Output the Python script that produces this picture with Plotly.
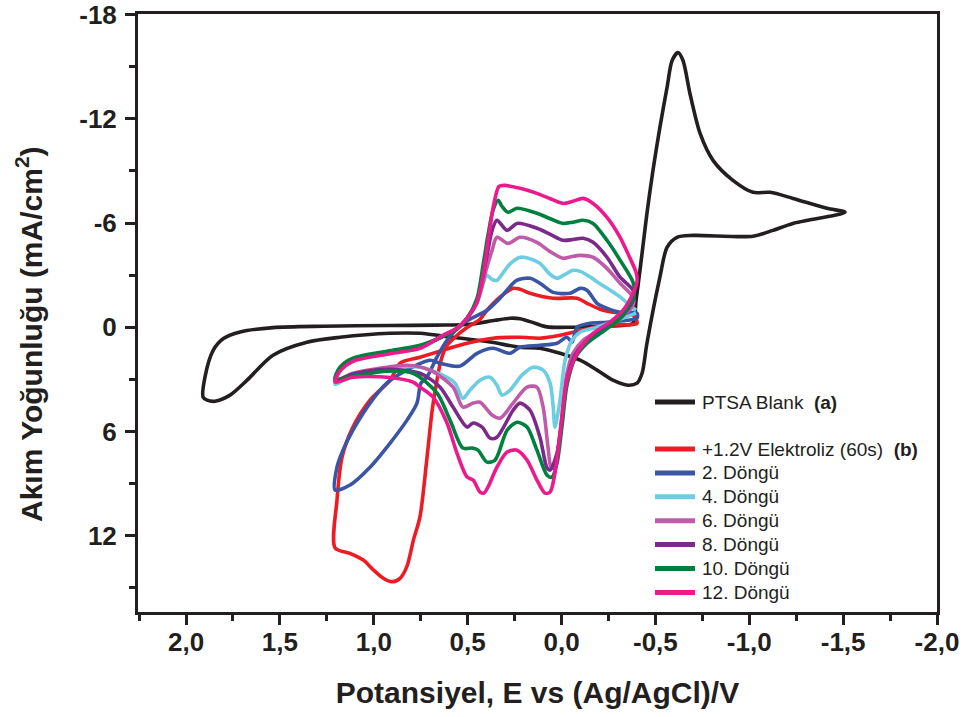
import plotly.graph_objects as go

# ---------------- data: potential E (V vs Ag/AgCl) and current density J (mA/cm2) ----------------
blank_E = [1.909, 1.899, 1.855, 1.801, 1.712, 1.537, 1.27, 0.913, 0.665, 0.487, 0.354, 0.274, 0.221,
           0.141, 0.077, -0.061, -0.205, -0.338, -0.381, -0.397, -0.418, -0.455, -0.487, -0.524, -0.562,
           -0.589, -0.620, -0.647, -0.684, -0.738, -0.807, -0.913, -1.02, -1.111, -1.233, -1.414, -1.51,
           -1.233, -1.126, -1.02, -0.70, -0.615, -0.562, -0.524, -0.455, -0.429, -0.402,
           -0.354, -0.274, -0.189, -0.099, 0.008, 0.115, 0.221, 0.381, 0.578, 0.754, 0.913, 1.18, 1.356,
           1.537, 1.675, 1.766, 1.846, 1.888, 1.909]
blank_J = [4.03, 2.86, 1.32, 0.65, 0.27, 0.02, -0.06, -0.10, -0.12, -0.17, -0.40, -0.52, -0.49,
           -0.23, -0.02, 0.0, -0.06, -0.12, -0.23, -1.55, -3.28, -6.56, -9.03, -11.51, -13.81,
           -15.36, -15.82, -15.36, -13.46, -11.16, -9.61, -8.46, -7.77, -7.77, -7.42, -6.85, -6.62,
           -5.98, -5.58, -5.24, -5.29, -5.18, -4.60, -2.88, 0.92, 2.65, 3.22,
           3.34, 3.05, 2.47, 1.90, 1.50, 1.21, 1.15, 0.85, 0.58, 0.35, 0.35, 0.58, 0.86,
           1.61, 3.05, 3.91, 4.26, 4.20, 4.03]

elek_E = [1.206, 1.127, 1.056, 1.002, 0.949, 0.904, 0.860, 0.824, 0.789, 0.754, 0.718, 0.689, 0.668,
          0.642, 0.610, 0.562, 0.509, 0.434, 0.397, 0.328, 0.258, 0.221, 0.168, 0.045, -0.083, -0.136,
          -0.205, -0.274, -0.381, -0.402, -0.242, -0.152, 0.008, 0.115, 0.221, 0.365, 0.503, 0.631,
          0.754, 0.860, 0.913, 1.02, 1.111, 1.169, 1.196, 1.206]
elek_J = [12.72, 13.02, 13.41, 13.98, 14.46, 14.66, 14.46, 13.79, 12.26, 10.92, 7.65, 4.78, 3.34,
          1.90, 1.04, 0.52, 0.06, -0.46, -0.98, -1.73, -2.24, -2.19, -1.96, -1.67, -1.67, -1.38,
          -1.04, -0.86, -0.69, -0.23, -0.12, 0.06, 0.46, 0.63, 0.58, 0.63, 0.92, 1.32,
          1.73, 2.07, 3.05, 4.20, 5.75, 7.48, 9.95, 12.72]

c2_E = [1.206, 1.127, 1.02, 0.913, 0.823, 0.77, 0.749, 0.716, 0.663, 0.610, 0.525, 0.397, 0.328, 0.239,
        0.168, 0.115, 0.045, -0.045, -0.099, -0.136, -0.189, -0.242, -0.312, -0.402, -0.402, -0.349,
        -0.242, -0.152, -0.083, -0.056, -0.029, 0.024, 0.115, 0.221, 0.274, 0.365, 0.450, 0.541, 0.647,
        0.700, 0.825, 0.931, 1.02, 1.111, 1.164, 1.196, 1.206]
c2_J = [9.38, 9.09, 8.06, 6.67, 5.35, 4.37, 3.22, 2.86, 1.71, 0.75, -0.23, -0.98, -1.67, -2.70,
        -2.82, -2.53, -2.01, -1.96, -2.24, -2.13, -1.38, -1.09, -0.86, -0.81, -0.52, -0.40,
        -0.29, -0.23, 0.0, 0.86, 0.58, 0.92, 1.04, 1.15, 1.50, 1.21, 1.50, 2.24, 2.07,
        1.90, 2.47, 3.22, 4.37, 5.93, 7.08, 8.06, 9.38]

c4_E = [-0.397, -0.349, -0.312, -0.258, -0.205, -0.152, -0.099, -0.061, -0.019, 0.024, 0.061, 0.115,
        0.168, 0.221, 0.274, 0.317, 0.344, 0.370, 0.397, 0.418, 0.450, 0.503, 0.557, 0.631, 0.754,
        0.929, 1.111, 1.18, 1.206,
        1.111, 0.929, 0.754, 0.610, 0.567, 0.525, 0.487, 0.434, 0.381, 0.344, 0.317, 0.274, 0.211,
        0.152, 0.098, 0.061, 0.045, 0.035, 0.020, 0.008, -0.019, -0.056, -0.099, -0.189, -0.296, -0.397]
c4_J = [-0.98, -1.40, -1.75, -2.15, -2.50, -2.90, -3.22, -3.28, -3.05, -2.82, -3.05, -3.68,
        -3.95, -4.03, -3.65, -3.05, -2.70, -2.75, -2.99, -2.53, -1.38, -0.52, 0.06, 0.46, 1.21,
        1.50, 1.90, 2.47, 3.28,
        2.76, 2.36, 2.30, 2.88, 3.22, 4.09, 3.62, 3.05, 2.88, 3.34, 3.91, 3.62, 2.76,
        2.30, 2.47, 3.22, 4.49, 5.75, 5.00, 4.20, 1.90, 0.75, 0.29, 0.0, -0.40, -0.81]

c6_E = [-0.381, -0.312, -0.242, -0.168, -0.099, -0.045, -0.008, 0.060, 0.131, 0.221, 0.285, 0.344,
        0.370, 0.402, 0.429, 0.455, 0.503, 0.557, 0.631, 0.754, 0.929, 1.111, 1.18, 1.206,
        1.111, 0.929, 0.823, 0.700, 0.578, 0.525, 0.471, 0.434, 0.370, 0.328, 0.258, 0.184, 0.131,
        0.098, 0.072, 0.056, 0.040, 0.008, -0.029, -0.061, -0.115, -0.205, -0.312, -0.381, -0.381]
c6_J = [-1.73, -2.53, -3.39, -4.03, -4.14, -4.05, -3.97, -4.35, -4.89, -5.18, -4.83, -5.18,
        -4.43, -3.28, -2.13, -1.38, -0.52, 0.06, 0.52, 1.15, 1.50, 1.90, 2.42, 3.11,
        2.65, 2.30, 2.19, 2.47, 3.45, 4.60, 4.37, 4.32, 5.06, 5.24, 4.37, 3.45, 3.45,
        4.60, 6.90, 8.06, 8.11, 6.10, 2.65, 1.50, 0.75, 0.17, -0.52, -1.27, -1.73]

c8_E = [-0.381, -0.312, -0.242, -0.168, -0.115, -0.060, -0.008, 0.060, 0.131, 0.237, 0.290, 0.344,
        0.370, 0.392, 0.418, 0.450, 0.503, 0.557, 0.631, 0.754, 0.929, 1.111, 1.18, 1.206,
        1.111, 0.929, 0.754, 0.647, 0.578, 0.503, 0.471, 0.423, 0.381, 0.344, 0.258, 0.221, 0.168,
        0.115, 0.077, 0.061, 0.024, -0.003, -0.029, -0.072, -0.125, -0.205, -0.312, -0.381, -0.381]
c8_J = [-2.13, -2.88, -4.03, -4.89, -5.12, -5.05, -5.01, -5.35, -5.70, -5.98, -5.58, -6.16,
        -5.58, -4.43, -2.99, -1.55, -0.52, 0.09, 0.52, 1.09, 1.44, 1.84, 2.36, 3.05,
        2.70, 2.42, 2.65, 3.45, 4.60, 5.75, 5.52, 5.75, 6.39, 6.33, 4.78, 4.37, 4.78,
        6.33, 8.11, 8.23, 7.25, 5.35, 3.05, 1.61, 0.86, 0.23, -0.52, -1.55, -2.13]

c10_E = [-0.381, -0.312, -0.242, -0.168, -0.115, -0.060, -0.008, 0.060, 0.131, 0.237, 0.285, 0.317,
         0.338, 0.365, 0.392, 0.418, 0.450, 0.503, 0.557, 0.631, 0.754, 0.929, 1.111, 1.18, 1.206,
         1.111, 0.929, 0.791, 0.663, 0.594, 0.525, 0.476, 0.445, 0.397, 0.354, 0.290, 0.237, 0.184,
         0.131, 0.077, 0.051, 0.024, -0.003, -0.029, -0.072, -0.136, -0.232, -0.322, -0.386, -0.381]
c10_J = [-2.59, -3.86, -5.01, -5.98, -6.16, -6.05, -5.98, -6.25, -6.56, -6.85, -6.62, -6.96,
         -7.31, -6.73, -5.29, -3.57, -1.67, -0.52, 0.12, 0.52, 1.04, 1.38, 1.78, 2.30, 2.99,
         2.82, 2.53, 2.65, 3.80, 5.35, 6.96, 6.96, 7.08, 7.77, 7.65, 5.93, 5.47, 5.75,
         7.08, 8.52, 8.63, 7.83, 5.64, 3.34, 1.78, 0.92, 0.17, -0.63, -1.84, -2.59]

c12_E = [-0.397, -0.365, -0.312, -0.242, -0.168, -0.115, -0.060, -0.008, 0.060, 0.131, 0.221, 0.301,
         0.333, 0.365, 0.392, 0.418, 0.450, 0.503, 0.557, 0.631, 0.754, 0.929, 1.111, 1.18, 1.206,
         1.111, 0.929, 0.791, 0.754, 0.684, 0.610, 0.557, 0.503, 0.471, 0.434, 0.413, 0.392, 0.344,
         0.290, 0.237, 0.184, 0.131, 0.088, 0.061, 0.035, 0.008, -0.029, -0.083, -0.168, -0.258,
         -0.328, -0.381, -0.402, -0.397]
c12_J = [-3.16, -3.97, -5.18, -6.33, -7.13, -7.42, -7.25, -7.13, -7.40, -7.71, -8.00, -8.17,
         -8.11, -6.85, -4.89, -2.99, -1.44, -0.52, 0.06, 0.46, 1.21, 1.55, 1.96, 2.53, 3.16,
         2.88, 2.88, 3.16, 3.45, 4.03, 5.52, 7.25, 8.63, 8.80, 9.49, 9.55, 9.21, 8.06,
         7.19, 7.08, 7.65, 8.80, 9.55, 9.49, 8.40, 6.10, 3.05, 1.50, 0.35, -0.29,
         -0.98, -1.96, -2.59, -3.16]

series_names = ["PTSA Blank\u00a0\u00a0<b>(a)</b>", "+1.2V Elektroliz (60s)\u00a0\u00a0<b>(b)</b>",
                "2. Döngü", "4. Döngü", "6. Döngü", "8. Döngü", "10. Döngü", "12. Döngü"]
series_colors = ["#231f20", "#ed1c24", "#3a55a5", "#6dcde1", "#bf5ba9", "#7b2a8b", "#00803f", "#ec1a8c"]
series_E = [blank_E, elek_E, c2_E, c4_E, c6_E, c8_E, c10_E, c12_E]
series_J = [blank_J, elek_J, c2_J, c4_J, c6_J, c8_J, c10_J, c12_J]

x_ticks = [2.0, 1.5, 1.0, 0.5, 0.0, -0.5, -1.0, -1.5, -2.0]
x_labels = ["2,0", "1,5", "1,0", "0,5", "0,0", "-0,5", "-1,0", "-1,5", "-2,0"]
y_ticks = [-18, -12, -6, 0, 6, 12]
y_labels = ["-18", "-12", "-6", "0", "6", "12"]

x_title = "Potansiyel, E vs (Ag/AgCl)/V"
y_title = "Akım Yoğunluğu (mA/cm<sup>2</sup>)"

INK = "#231f20"
FONT = "Liberation Sans, Arial, sans-serif"

W, H = 963, 717
M_L, M_R, M_T, M_B = 138, 26, 14, 105
PW, PH = W - M_L - M_R, H - M_T - M_B


def px_to_paper(px, py):
    """Pixel position on the page -> paper coordinates of the plot area."""
    return (px - M_L) / PW, 1 - (py - M_T) / PH


fig = go.Figure()
for name, E, J, col in zip(series_names, series_E, series_J, series_colors):
    fig.add_trace(go.Scatter(
        x=E, y=J, mode="lines", name=name, showlegend=False,
        line=dict(color=col, width=3.6, shape="spline", smoothing=0.8),
        hoverinfo="skip",
    ))

# hand-placed key: short coloured bar followed by the series label
LEG_X0, LEG_X1, LEG_TX = 655, 695, 700
LEG_ROW0, LEG_ROW1, LEG_STEP = 402, 449, 23.9
for i, (name, col) in enumerate(zip(series_names, series_colors)):
    row_y = LEG_ROW0 if i == 0 else LEG_ROW1 + (i - 1) * LEG_STEP
    x0, y0 = px_to_paper(LEG_X0, row_y)
    x1, _ = px_to_paper(LEG_X1, row_y)
    tx, _ = px_to_paper(LEG_TX, row_y)
    fig.add_shape(type="line", xref="paper", yref="paper", x0=x0, x1=x1, y0=y0, y1=y0,
                  line=dict(color=col, width=5))
    fig.add_annotation(xref="paper", yref="paper", x=tx, y=y0, xanchor="left", yanchor="middle",
                       text=name, showarrow=False,
                       font=dict(family=FONT, size=19, color=INK))

# vertical axis title, set as rotated text beside the tick labels
ytx, yty = px_to_paper(29, 334)
fig.add_annotation(xref="paper", yref="paper", x=ytx, y=yty, xanchor="center", yanchor="middle",
                   text=y_title, textangle=-90, showarrow=False,
                   font=dict(family=FONT, size=30, color=INK, weight="bold"))

axis_common = dict(
    ticks="outside", ticklen=10, tickwidth=3, tickcolor=INK,
    showline=True, linewidth=3, linecolor=INK, mirror=True,
    showgrid=False, zeroline=False, automargin=False,
    ticklabeloverflow="allow",
    tickfont=dict(family=FONT, size=26, color=INK, weight="bold"),
)

fig.update_layout(
    width=W, height=H,
    margin=dict(l=M_L, r=M_R, t=M_T, b=M_B),
    paper_bgcolor="white", plot_bgcolor="white",
    font=dict(family=FONT, color=INK),
    xaxis=dict(
        range=[2.256, -2.0], tickmode="array", tickvals=x_ticks, ticktext=x_labels,
        ticklabelstandoff=-5,
        minor=dict(tickmode="linear", tick0=0, dtick=0.25, ticks="outside", ticklen=6,
                   tickwidth=3, tickcolor=INK),
        title=dict(text=x_title,
                   font=dict(family=FONT, size=30, color=INK, weight="bold"), standoff=26),
        **axis_common,
    ),
    yaxis=dict(
        range=[16.4, -18.04], tickmode="array", tickvals=y_ticks, ticktext=y_labels,
        ticklabelstandoff=3,
        minor=dict(tickmode="linear", tick0=0, dtick=3, ticks="outside", ticklen=6,
                   tickwidth=3, tickcolor=INK),
        **axis_common,
    ),
    showlegend=False,
)

fig.write_html("out.html")
